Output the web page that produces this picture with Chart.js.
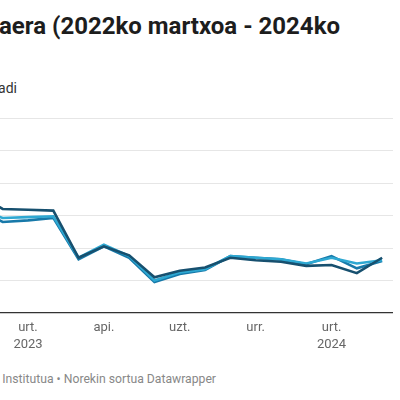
<!DOCTYPE html>
<html>
<head>
<meta charset="utf-8">
<script src="https://cdn.jsdelivr.net/npm/chart.js@4/dist/chart.umd.min.js"></script>
<style>
  body { margin: 0; width: 400px; height: 400px; overflow: hidden; background: #fff; position: relative; font-family: Roboto, "Noto Sans", sans-serif; }
  .txt { position: absolute; white-space: nowrap; }
  #title { top: 12px; right: 60px; font-size: 24px; font-weight: 700; color: #1d1d1d; }
  #subtitle { top: 80px; right: 383px; font-size: 14px; color: #333; }
  #footer { top: 372px; right: 184px; font-size: 12.2px; color: #888; }
  #chart { position: absolute; left: -40px; top: 100px; }
</style>
</head>
<body>
<div id="title" class="txt">Kontsumoko prezioen urte arteko aldakuntzaren bilakaera (2022ko martxoa - 2024ko</div>
<div id="subtitle" class="txt">Araba, Bizkaia, Gipuzkoa eta Euskadi</div>
<div id="footer" class="txt">Iturria: Eustat - Euskal Estatistika Institutua • Norekin sortua Datawrapper</div>
<canvas id="chart" width="440" height="300"></canvas>

<script>
  // hilabeteak: 2022-11 .. 2024-03 (indizea 8 = 2022ko azaroa)
  const hilabeteak = ['2022-11', '2022-12', '2023-01', '2023-02', '2023-03', '2023-04', '2023-05', '2023-06',
    '2023-07', '2023-08', '2023-09', '2023-10', '2023-11', '2023-12', '2024-01', '2024-02', '2024-03'];
  const lehenIndizea = 8;

  const serieIlun = [7.3, 6.4, 6.35, 6.3, 3.4, 4.1, 3.55, 2.2, 2.6, 2.8, 3.4, 3.25, 3.15, 2.9, 2.95, 2.45, 3.4];
  const serieZian = [6.4, 5.85, 5.9, 5.95, 3.4, 4.2, 3.5, 2.0, 2.5, 2.7, 3.5, 3.4, 3.3, 3.05, 3.4, 3.05, 3.25];
  const serieUrdin = [6.4, 5.6, 5.7, 5.85, 3.3, 4.1, 3.4, 1.9, 2.4, 2.65, 3.5, 3.4, 3.3, 3.0, 3.5, 2.75, 3.2];

  const tickIndizeak = [10, 13, 16, 19, 22];
  const tickEtiketak = [['urt.', '2023'], 'api.', 'uzt.', 'urr.', ['urt.', '2024']];
  const yTickak = [0, 2, 4, 6, 8, 10, 12];

  const puntuak = serie => serie.map((v, i) => ({ x: lehenIndizea + i, y: v }));

  const ctx = document.getElementById('chart').getContext('2d');

  new Chart(ctx, {
    type: 'line',
    data: {
      datasets: [
        { label: 'Euskadi', data: puntuak(serieIlun), borderColor: '#17506f' },
        { label: 'Gipuzkoa', data: puntuak(serieZian), borderColor: '#2ea8d2' },
        { label: 'Bizkaia', data: puntuak(serieUrdin), borderColor: '#1779a9' }
      ]
    },
    options: {
      responsive: false,
      animation: false,
      elements: {
        line: { borderWidth: 2.6, tension: 0 },
        point: { radius: 0 }
      },
      layout: { padding: { left: 17.4, right: 7, top: 18, bottom: 0 } },
      plugins: { legend: { display: false }, tooltip: { enabled: false } },
      scales: {
        x: {
          type: 'linear',
          min: 8,
          max: 24.43,
          afterFit: s => { s.height = 87; },
          afterBuildTicks: s => { s.ticks = tickIndizeak.map(v => ({ value: v })); },
          grid: { display: false, drawTicks: false },
          border: { display: false },
          ticks: {
            autoSkip: false,
            maxRotation: 0,
            padding: 7,
            color: '#666',
            font: { family: 'Roboto', size: 13, lineHeight: 1.25 },
            callback: v => tickEtiketak[tickIndizeak.indexOf(v)]
          }
        },
        y: {
          min: 0,
          max: 12,
          afterBuildTicks: s => { s.ticks = yTickak.map(v => ({ value: v })); },
          grid: {
            drawTicks: false,
            color: c => c.tick.value === 0 ? '#333' : '#e6e6e6',
            lineWidth: c => c.tick.value === 0 ? 1.3 : 1
          },
          border: { display: false },
          ticks: { display: false }
        }
      }
    }
  });
</script>
</body>
</html>
